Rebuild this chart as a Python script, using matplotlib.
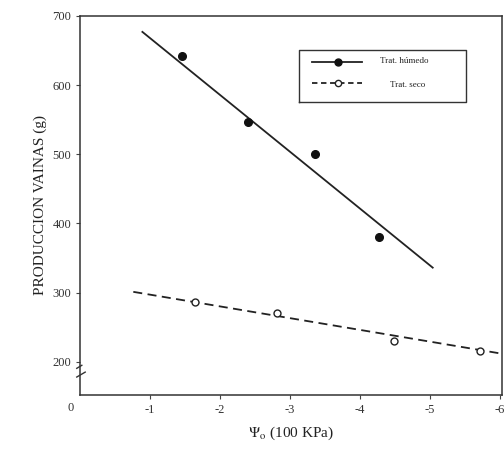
import matplotlib
matplotlib.use('Agg')
import matplotlib.pyplot as plt

# data
x_humedo = [-1.46, -2.40, -3.36, -4.27]
y_humedo = [642, 546, 500, 381]
fit_humedo_x = [-0.89, -5.04]
fit_humedo_y = [677, 336]

x_seco = [-1.64, -2.81, -4.49, -5.71]
y_seco = [287, 271, 230, 216]
fit_seco_x = [-0.76, -6.0]
fit_seco_y = [301, 212]

xticks = [-1, -2, -3, -4, -5, -6]
yticks = [200, 300, 400, 500, 600, 700]

plt.rcParams['font.family'] = ['Liberation Serif', 'DejaVu Serif']
plt.rcParams['mathtext.fontset'] = 'stix'

fig = plt.figure(figsize=(5.04, 4.57), dpi=100)
ax = fig.add_axes([0.159, 0.136, 0.837, 0.829])

ax.plot(fit_humedo_x, fit_humedo_y, color='#222222', lw=1.3)
ax.plot(x_humedo, y_humedo, 'o', color='#111111', ms=5.5, ls='none')
ax.plot(fit_seco_x, fit_seco_y, color='#222222', lw=1.3, ls=(0, (5, 3)))
ax.plot(x_seco, y_seco, 'o', mfc='white', mec='#222222', mew=1.0, ms=5, ls='none')

ax.set_xlim(0, -6.03)
ax.set_ylim(152, 700)
ax.set_xticks(xticks)
ax.set_xticklabels([str(t) for t in xticks], fontsize=9)
ax.set_yticks(yticks)
ax.set_yticklabels([str(t) for t in yticks], fontsize=9)
ax.tick_params(direction='out', length=3, width=0.8, color='#444444', labelcolor='#333333')
for s in ax.spines.values():
    s.set_linewidth(1.1)
    s.set_color('#333333')

ax.set_ylabel('PRODUCCION VAINAS (g)', fontsize=11, color='#222222', labelpad=4)
ax.set_xlabel('$\\Psi_{\\rm o}$ (100 KPa)', fontsize=11, color='#222222', labelpad=6)

# origin label and axis break
ax.text(-0.015, -0.035, '0', transform=ax.transAxes, ha='right', va='center', fontsize=9, color='#333333')
ax.plot([0, 0], [0.045, 0.075], transform=ax.transAxes, color='white', lw=3, clip_on=False)
ax.plot([-0.008, 0.012], [0.047, 0.060], transform=ax.transAxes, color='#333333', lw=1, clip_on=False)
ax.plot([-0.008, 0.004], [0.07, 0.078], transform=ax.transAxes, color='#333333', lw=1, clip_on=False)

# legend box drawn by hand to follow the original layout
lx0, lx1, ly0, ly1 = 0.52, 0.915, 0.773, 0.91
ax.plot([lx0, lx1, lx1, lx0, lx0], [ly0, ly0, ly1, ly1, ly0],
        transform=ax.transAxes, color='#333333', lw=1.0)
ax.plot([0.55, 0.668], [0.879, 0.879], transform=ax.transAxes, color='#222222', lw=1.3)
ax.plot([0.611], [0.879], 'o', transform=ax.transAxes, color='#111111', ms=5)
ax.plot([0.55, 0.668], [0.823, 0.823], transform=ax.transAxes, color='#222222', lw=1.3, ls=(0, (3, 2)))
ax.plot([0.611], [0.823], 'o', transform=ax.transAxes, mfc='white', mec='#222222', ms=4.5)
ax.text(0.711, 0.882, 'Trat. húmedo', transform=ax.transAxes, fontsize=6.5, va='center', color='#222222')
ax.text(0.735, 0.818, 'Trat. seco', transform=ax.transAxes, fontsize=6.5, va='center', color='#222222')

fig.savefig('out.png', dpi=100)
